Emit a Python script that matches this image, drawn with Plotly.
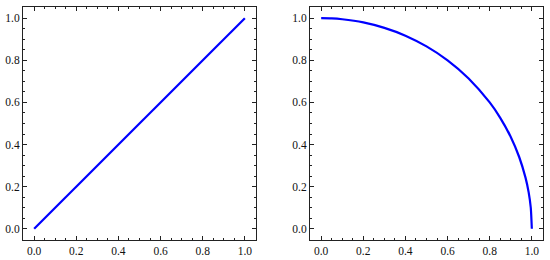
import plotly.graph_objects as go
from plotly.subplots import make_subplots

# left panel: straight line
line_x = [0.0, 1.0]
line_y = [0.0, 1.0]

# right panel: quarter arc
arc_x = [0.0, 0.05, 0.1, 0.2, 0.3, 0.4, 0.5, 0.6, 0.7, 0.8, 0.85, 0.9, 0.94, 0.97, 0.985, 0.995, 1.0]
arc_y = [1.0, 0.999, 0.995, 0.98, 0.954, 0.917, 0.866, 0.8, 0.714, 0.6, 0.527, 0.436, 0.341, 0.243, 0.173, 0.1, 0.0]

tick_vals = [0.0, 0.2, 0.4, 0.6, 0.8, 1.0]
tick_text = ['0.0', '0.2', '0.4', '0.6', '0.8', '1.0']

blue = '#0000ff'

fig = make_subplots(rows=1, cols=2)

fig.add_trace(go.Scatter(x=line_x, y=line_y, mode='lines',
                         line=dict(color=blue, width=2.2)), row=1, col=1)
fig.add_trace(go.Scatter(x=arc_x, y=arc_y, mode='lines',
                         line=dict(color=blue, width=2.2, shape='spline', smoothing=0.6)),
              row=1, col=2)

axis_style = dict(
    range=[-0.053, 1.053], tickvals=tick_vals, ticktext=tick_text,
    ticks='inside', ticklen=4, tickwidth=1, tickcolor='#222',
    showline=True, linecolor='#222', linewidth=1, mirror='ticks',
    showgrid=False, zeroline=False, automargin=False,
    minor=dict(ticks='inside', ticklen=2, tickcolor='#222', dtick=0.05, tick0=0, showgrid=False),
    tickfont=dict(family='Liberation Serif, Times New Roman, serif', size=11.5, color='#111'),
)

fig.update_xaxes(**axis_style)
fig.update_yaxes(**axis_style)

fig.update_layout(
    width=550, height=260, showlegend=False,
    plot_bgcolor='white', paper_bgcolor='white',
    margin=dict(l=0, r=0, t=0, b=0),
    xaxis=dict(domain=[23 / 550, 256 / 550]),
    xaxis2=dict(domain=[310 / 550, 543 / 550]),
    yaxis=dict(domain=[1 - 240 / 260, 1 - 7 / 260]),
    yaxis2=dict(domain=[1 - 240 / 260, 1 - 7 / 260]),
)

# drop the page's default body margin so the figure sits at the window corner
fig.write_html("out.html", config={'displayModeBar': False},
               post_script="document.body.style.margin='0';")
